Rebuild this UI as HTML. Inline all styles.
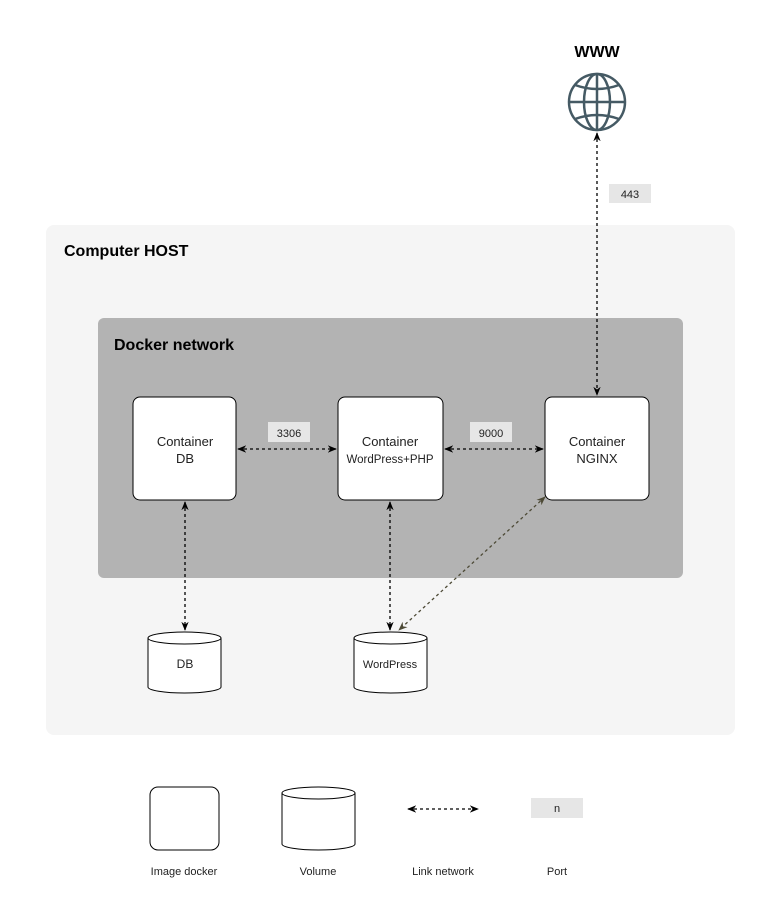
<!DOCTYPE html>
<html><head><style>
body{margin:0;background:#fff;}
svg text{font-family:"Liberation Sans",sans-serif;}
</style></head><body>
<svg width="762" height="904" viewBox="0 0 762 904" xmlns="http://www.w3.org/2000/svg">
<defs>
<marker id="a" viewBox="0 0 10 10" refX="9" refY="5" markerWidth="7" markerHeight="7" orient="auto-start-reverse"><path d="M0,1 L10,5 L0,9 L3,5z" fill="#000"/></marker>
<marker id="b" viewBox="0 0 10 10" refX="9" refY="5" markerWidth="7" markerHeight="7" orient="auto-start-reverse"><path d="M0,1 L10,5 L0,9 L3,5z" fill="#4d4a36"/></marker>
</defs>
<rect x="46" y="225" width="689" height="510" rx="8" fill="#f5f5f5"/>
<text x="64" y="256" font-size="16" font-weight="bold">Computer HOST</text>
<rect x="98" y="318" width="585" height="260" rx="6" fill="#b3b3b3"/>
<text x="114" y="350" font-size="16" font-weight="bold">Docker network</text>
<g fill="#fff" stroke="#000" stroke-width="1">
<rect x="133" y="397" width="103" height="103" rx="7"/>
<rect x="338" y="397" width="105" height="103" rx="7"/>
<rect x="545" y="397" width="104" height="103" rx="7"/>
</g>
<g font-size="13" text-anchor="middle" fill="#222">
<text x="185" y="446">Container</text><text x="185" y="463">DB</text>
<text x="390" y="446">Container</text><text x="390" y="463" font-size="11.5">WordPress+PHP</text>
<text x="597" y="446">Container</text><text x="597" y="463">NGINX</text>
</g>
<g fill="#e6e6e6"><rect x="268" y="422" width="42" height="20"/><rect x="470" y="422" width="42" height="20"/><rect x="609" y="184" width="42" height="19"/><rect x="531" y="798" width="52" height="20"/></g>
<g font-size="11" text-anchor="middle" fill="#222"><text x="289" y="437">3306</text><text x="491" y="437">9000</text><text x="630" y="198">443</text><text x="557" y="812">n</text></g>
<g stroke="#000" stroke-width="1.3" stroke-dasharray="3,3" fill="none">
<line x1="238" y1="449" x2="336" y2="449" marker-start="url(#a)" marker-end="url(#a)"/>
<line x1="445" y1="449" x2="543" y2="449" marker-start="url(#a)" marker-end="url(#a)"/>
<line x1="185" y1="502" x2="185" y2="630" marker-start="url(#a)" marker-end="url(#a)"/>
<line x1="390" y1="502" x2="390" y2="630" marker-start="url(#a)" marker-end="url(#a)"/>
<line x1="597" y1="133" x2="597" y2="395" marker-start="url(#a)" marker-end="url(#a)"/>
<line x1="408" y1="809" x2="478" y2="809" marker-start="url(#a)" marker-end="url(#a)"/>
</g>
<line x1="545" y1="497" x2="399" y2="630" stroke="#4d4a36" stroke-width="1.3" stroke-dasharray="3,3" marker-start="url(#b)" marker-end="url(#b)"/>
<g fill="#fff" stroke="#000" stroke-width="1">
<path d="M148,638 v49 a36.5,6 0 0 0 73,0 v-49"/><ellipse cx="184.5" cy="638" rx="36.5" ry="6"/>
<path d="M354,638 v49 a36.5,6 0 0 0 73,0 v-49"/><ellipse cx="390.5" cy="638" rx="36.5" ry="6"/>
<path d="M282,793 v51 a36.5,6 0 0 0 73,0 v-51"/><ellipse cx="318.5" cy="793" rx="36.5" ry="6"/>
<rect x="150" y="787" width="69" height="63" rx="8"/>
</g>
<g font-size="12" text-anchor="middle" fill="#222">
<text x="185" y="668">DB</text><text x="390" y="668" font-size="11">WordPress</text>
<text x="184" y="875" font-size="11">Image docker</text><text x="318" y="875" font-size="11">Volume</text>
<text x="443" y="875" font-size="11">Link network</text><text x="557" y="875" font-size="11">Port</text>
</g>
<text x="597" y="57" font-size="16" font-weight="bold" text-anchor="middle">WWW</text>
<g fill="none" stroke="#455a64" stroke-width="2.5">
<circle cx="597" cy="102" r="28"/>
<ellipse cx="597" cy="102" rx="13" ry="28"/>
<line x1="597" y1="74" x2="597" y2="130"/>
<line x1="569" y1="102" x2="625" y2="102"/>
<path d="M575,85 Q597,93 619,85"/><path d="M575,119 Q597,111 619,119"/>
</g>
</svg>
</body></html>
